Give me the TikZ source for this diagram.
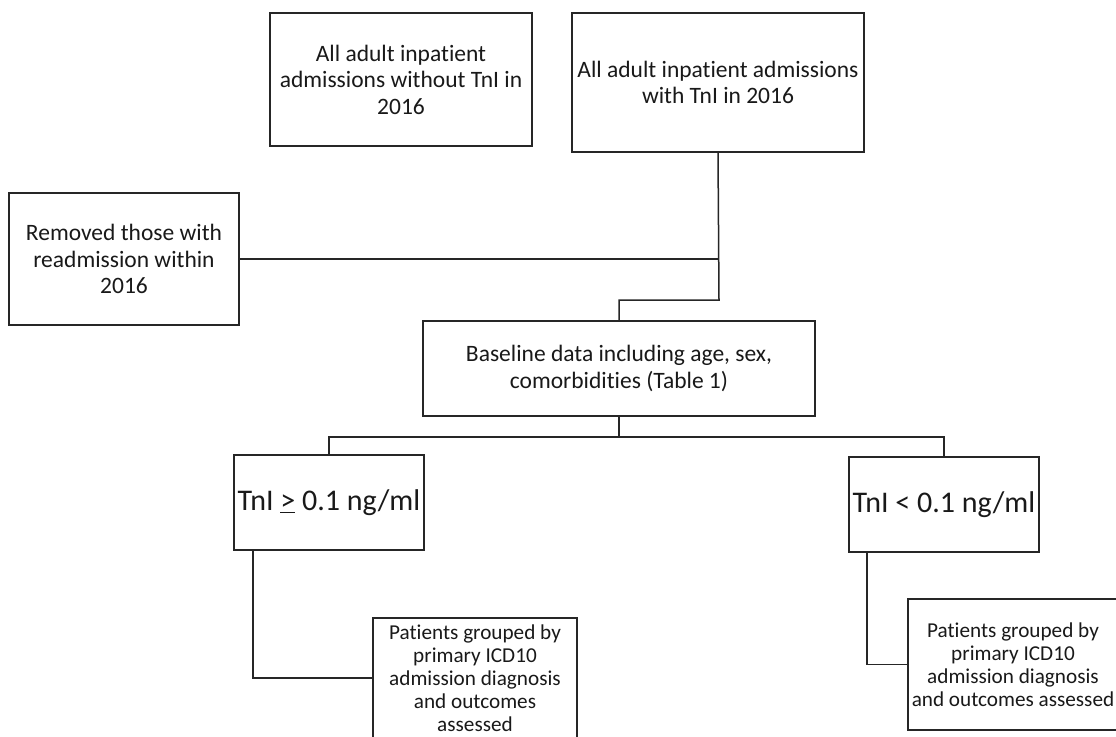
\documentclass[tikz,border=0pt]{standalone}
\usepackage{fontspec}
\setmainfont{Carlito}[Ligatures={NoCommon}]
\begin{document}
\begin{tikzpicture}[x=1pt,y=-1pt,
  box/.style={draw=black!85, line width=1.5pt, align=center, inner sep=2pt, text=black!90, anchor=center},
  bigtext/.style={font=\fontsize{23.5}{26.5}\selectfont},
  smalltext/.style={font=\fontsize{21.2}{23}\selectfont},
  hugetext/.style={font=\fontsize{30}{36}\selectfont},
  link/.style={draw=black!85, line width=1.5pt}]
\useasboundingbox (0,0) rectangle (1116,736);
\clip (0,0) rectangle (1116,736);
\fill[white] (0,0) rectangle (1116,736);

\node[box, bigtext, minimum width=262pt, minimum height=133pt] (A) at (401,79.5)
  {All adult inpatient\\admissions without TnI in\\2016};
\node[box, bigtext, minimum width=292pt, minimum height=139pt] (B) at (718,82.5)
  {All adult inpatient admissions\\with TnI in 2016};
\node[box, bigtext, minimum width=230pt, minimum height=132pt] (C) at (124,259)
  {Removed those with\\readmission within\\2016};
\node[box, bigtext, minimum width=392pt, minimum height=95pt] (D) at (619,368.5)
  {Baseline data including age, sex,\\comorbidities (Table 1)};
\node[box, hugetext, minimum width=190pt, minimum height=95pt] (E) at (329,502.5)
  {TnI \underline{>} 0.1 ng/ml};
\node[box, hugetext, minimum width=190pt, minimum height=95pt] (F) at (944,504.5)
  {TnI < 0.1 ng/ml};
\node[box, smalltext, minimum width=204pt, minimum height=120pt] (G) at (475,678)
  {Patients grouped by\\primary ICD10\\admission diagnosis\\and outcomes\\assessed};
\node[box, smalltext, minimum width=210pt, minimum height=131pt] (H) at (1013,664.5)
  {Patients grouped by\\primary ICD10\\admission diagnosis\\and outcomes assessed};

\coordinate (bturn) at (719,300);
\coordinate (dturn) at (619,300);
\coordinate (split) at (619,437);
\coordinate (eTop) at (E.north);
\coordinate (fTop) at (F.north);
\coordinate (eOut) at (253,550);
\coordinate (fOut) at (867,552);

\draw[link] (B.south) -- (bturn) -- (dturn) -- (D.north);
\draw[link] (C.east) -- (C.east -| B.south);
\draw[link] (D.south) -- (split);
\draw[link] (eTop) -- (eTop |- split) -- (fTop |- split) -- (fTop);
\draw[link] (eOut) |- (G.west);
\draw[link] (fOut) |- (H.west);
\end{tikzpicture}
\end{document}
